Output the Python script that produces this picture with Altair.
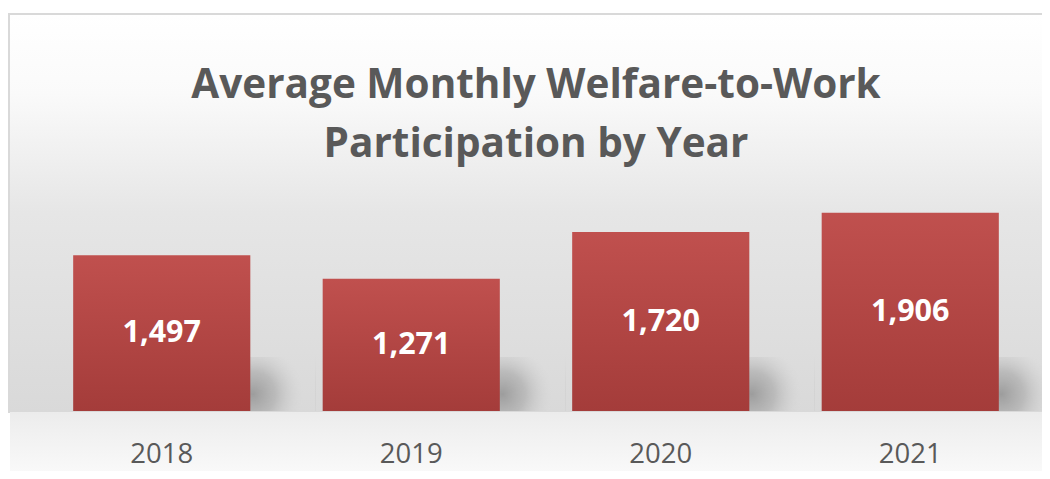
import altair as alt
import pandas as pd

years = ["2018", "2019", "2020", "2021"]
participation = [1497, 1271, 1720, 1906]
title_lines = ["Average Monthly Welfare-to-Work", "Participation by Year"]

df = pd.DataFrame({"year": years, "value": participation})

PLOT_W = 998
PLOT_H = 208
FONT = "Open Sans"
GRAY = "#595959"

x_scale = alt.Scale(paddingInner=0.29, paddingOuter=0.145)
y_scale = alt.Scale(domain=[0, 2000])

x_axis = alt.Axis(
    title=None, labelAngle=0, domain=False, ticks=False, tickSize=0,
    grid=False, labelFont=FONT, labelFontSize=27.5, labelColor=GRAY,
    labelBaseline="alphabetic", labelPadding=51, zindex=1,
)

base = alt.Chart(df)

# decorative background: wall and floor with gradients, border on top/left
wall = base.mark_rect(
    fill=alt.LinearGradient(
        gradient="linear", x1=0, y1=0, x2=0, y2=1,
        stops=[
            alt.GradientStop(color="#ffffff", offset=0),
            alt.GradientStop(color="#fafafa", offset=0.2),
            alt.GradientStop(color="#e6e6e6", offset=0.5),
            alt.GradientStop(color="#d9d9d9", offset=1),
        ],
    ),
    stroke="#d9d9d9", strokeWidth=2, clip=False,
).encode(
    x=alt.value(-28), x2=alt.value(PLOT_W + 30),
    y=alt.value(-189), y2=alt.value(PLOT_H + 1),
)

floor = base.mark_rect(
    fill=alt.LinearGradient(
        gradient="linear", x1=0, y1=0, x2=0, y2=1,
        stops=[
            alt.GradientStop(color="#ececec", offset=0),
            alt.GradientStop(color="#fbfbfb", offset=1),
        ],
    ),
    clip=False,
).encode(
    x=alt.value(-27), x2=alt.value(PLOT_W + 30),
    y=alt.value(PLOT_H + 1), y2=alt.value(PLOT_H + 70),
)

shadow = base.mark_bar(
    width=84, xOffset=112,
    fill=alt.RadialGradient(
        gradient="radial", x1=0.25, y1=0.62, r1=0, x2=0.25, y2=0.62, r2=0.6,
        stops=[
            alt.GradientStop(color="rgba(150,150,150,0.9)", offset=0),
            alt.GradientStop(color="rgba(165,165,165,0.6)", offset=0.45),
            alt.GradientStop(color="rgba(210,210,210,0)", offset=1),
        ],
    ),
).encode(
    x=alt.X("year:N", scale=x_scale, sort=years, axis=x_axis),
    y=alt.value(PLOT_H - 54), y2=alt.value(PLOT_H),
)

bars = base.mark_bar(
    fill=alt.LinearGradient(
        gradient="linear", x1=0, y1=0, x2=0, y2=1,
        stops=[
            alt.GradientStop(color="#c0504e", offset=0),
            alt.GradientStop(color="#a43c3a", offset=1),
        ],
    ),
).encode(
    x=alt.X("year:N", scale=x_scale, sort=years, axis=x_axis),
    y=alt.Y("value:Q", scale=y_scale, axis=None),
)

labels = base.transform_calculate(
    mid="datum.value / 2"
).mark_text(
    font=FONT, fontSize=30.5, fontWeight="bold", color="white", baseline="middle",
).encode(
    x=alt.X("year:N", scale=x_scale, sort=years, axis=x_axis),
    y=alt.Y("mid:Q", scale=y_scale, axis=None),
    text=alt.Text("value:Q", format=","),
)

chart = alt.layer(wall, floor, shadow, bars, labels).properties(
    width=PLOT_W,
    height=PLOT_H,
    autosize=alt.AutoSizeParams(type="none"),
    padding={"left": 29, "top": 195, "right": 7, "bottom": 60},
    title=alt.TitleParams(
        text=title_lines, font=FONT, fontSize=40.5, fontWeight="bold",
        color=GRAY, lineHeight=59, anchor="middle", frame="group", offset=-152,
        zindex=1,
    ),
).configure_view(stroke=None).configure(background="white")

chart.save("out.html", embed_options={"renderer": "svg", "actions": False})
